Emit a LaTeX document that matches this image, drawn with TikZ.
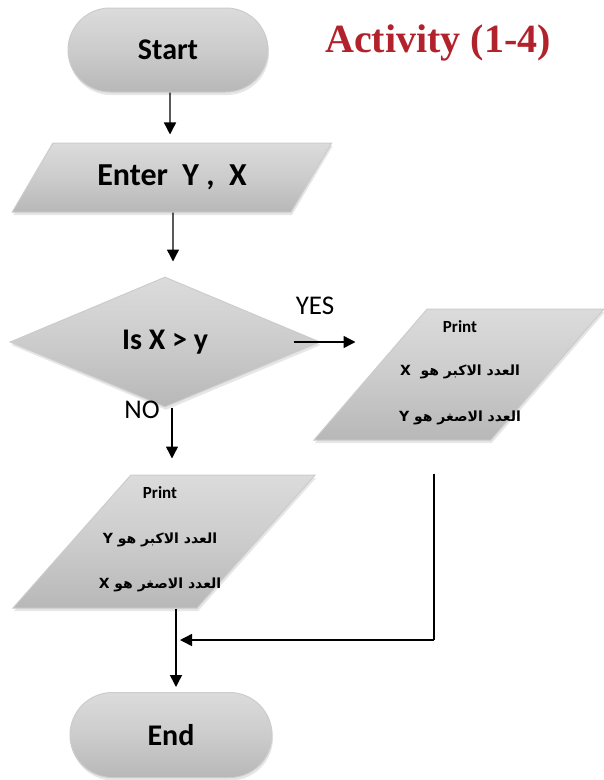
\documentclass[tikz,border=0pt]{standalone}
\usepackage{fontspec}
\setmainfont{Carlito}
\newfontfamily\titlefont{Liberation Serif}
\newfontfamily\arabicfont[Script=Arabic]{DejaVu Sans}
\TeXXeTstate=1
\usetikzlibrary{shapes.geometric,shapes.misc,arrows.meta,shadows}

\begin{document}
\begin{tikzpicture}[x=1pt,y=-1pt,
  box/.style={top color=gray!28, bottom color=gray!56, middle color=gray!40,
    draw=gray!40, line width=1pt,
    drop shadow={opacity=0.2, shadow xshift=1pt, shadow yshift=-3pt}},
  term/.style={box, rounded rectangle, minimum width=200pt, minimum height=84pt,
    inner sep=0pt, font=\bfseries\fontsize{30}{36}\selectfont},
  iobox/.style={box, trapezium, trapezium stretches=true,
    trapezium left angle=#1, trapezium right angle={180-#1}, inner sep=2pt},
  decision/.style={box, diamond, minimum width=310pt, minimum height=130pt,
    inner sep=0pt, font=\bfseries\fontsize{30}{36}\selectfont},
  ptxt/.style={font=\bfseries\fontsize{17}{20}\selectfont, inner sep=0pt},
  artxt/.style={font=\arabicfont\bfseries\fontsize{14}{17}\selectfont, inner sep=0pt},
  lbl/.style={font=\fontsize{27}{32}\selectfont, inner sep=0pt},
  arr/.style={-{Triangle[length=12pt,width=12pt]}, line width=1.4pt},
  ln/.style={line width=1.4pt}
]
\useasboundingbox (0,0) rectangle (604,780);

% title
\node[font=\titlefont\bfseries\fontsize{40}{48}\selectfont,
      text={rgb,255:red,178;green,34;blue,44}] (title) at (438,43) {Activity (1-4)};

% flowchart shapes
\node[term] (start) at (168,50) {Start};
\node[iobox=48, minimum width=320pt, minimum height=69pt,
      font=\bfseries\fontsize{32}{38}\selectfont] (enter) at (172,177.5) {Enter\ \ Y ,\ \ X};
\node[decision] (dec) at (165,342) {Is X > y};
\node[iobox=66, minimum width=290pt, minimum height=131pt] (prR) at (459,374.5) {\strut};
\node[iobox=66, minimum width=302pt, minimum height=133pt] (prL) at (164,541.5) {\strut};
\node[term, minimum width=202pt, minimum height=85pt] (end) at (171,735) {End};

% texts of the output boxes
\node[ptxt] (prRa) at (460,327) {Print};
\node[artxt] (prRb) at (460,372) {\beginR العدد الاكبر هو \ X\endR};
\node[artxt] (prRc) at (460,418) {\beginR العدد الاصغر هو Y\endR};
\node[ptxt] (prLa) at (160,493) {Print};
\node[artxt] (prLb) at (160,540) {\beginR العدد الاكبر هو Y\endR};
\node[artxt] (prLc) at (160,585) {\beginR العدد الاصغر هو X\endR};

% branch labels
\node[lbl] (yes) at (315,306) {YES};
\node[lbl] (no) at (142,410) {NO};

% connectors
\coordinate (join) at (434,640);
\coordinate (merge) at (176,640);
\draw[arr] ([xshift=2pt]start.south) -- ([xshift=-2pt,yshift=8pt]enter.north);
\draw[arr] ([xshift=1pt]enter.south) -- ([xshift=8pt,yshift=15pt]dec.north);
\draw[arr] ([xshift=-27pt]dec.east) -- ([xshift=35pt]dec.east);
\draw[arr] ([xshift=7pt]dec.south) -- ([xshift=7pt,yshift=-51pt]dec.south);
\draw[ln] ([xshift=-25pt,yshift=-33pt]prR.south) -- (join);
\draw[arr] (join) -- ([xshift=4pt]merge);
\draw[arr] ([xshift=12pt]prL.south) -- ([xshift=5pt,yshift=5pt]end.north);
\end{tikzpicture}
\end{document}
